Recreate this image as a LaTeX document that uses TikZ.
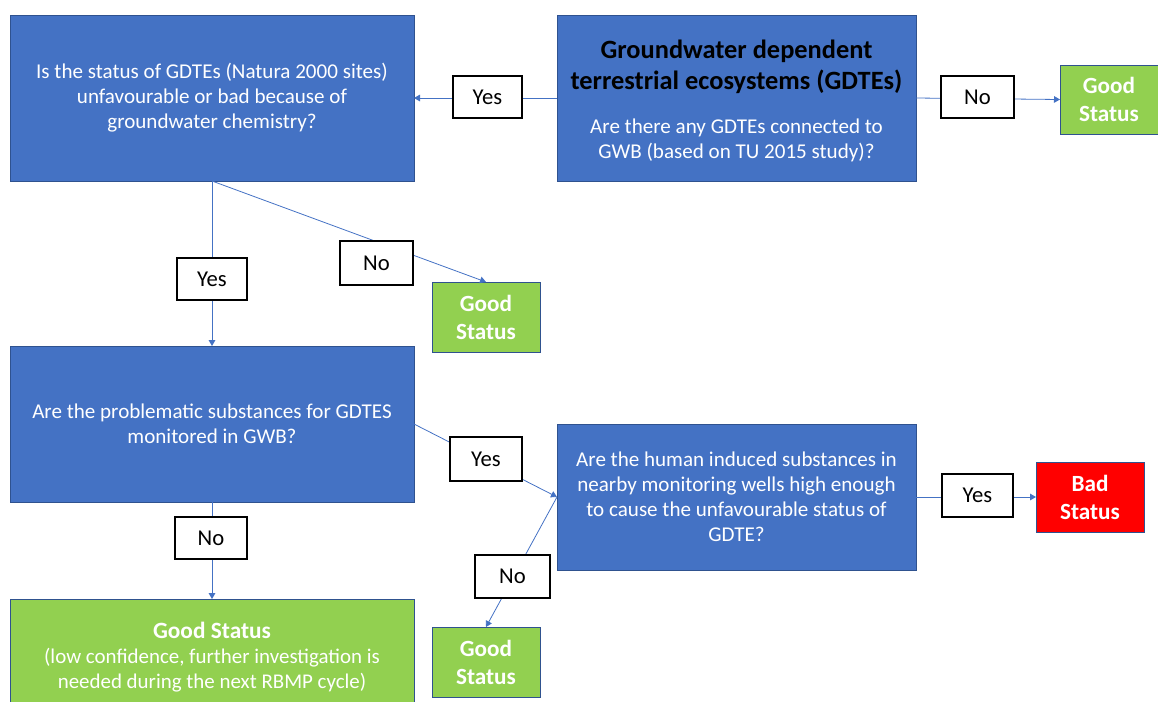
\documentclass[tikz,border=0pt]{standalone}
\usepackage{fontspec}
\setmainfont{Carlito}
\usetikzlibrary{arrows.meta}
\definecolor{boxblue}{HTML}{4472C4}
\definecolor{edgeblue}{HTML}{2F528F}
\definecolor{goodgreen}{HTML}{92D050}
\definecolor{badred}{HTML}{FF0000}
\definecolor{wire}{HTML}{4472C4}
\tikzset{
  wh/.style 2 args={minimum width=#1*0.75pt, minimum height=#2*0.75pt},
  qbox/.style={draw=edgeblue, line width=0.7pt, fill=boxblue, text=white,
    inner sep=0pt, outer sep=0pt, align=center,
    font=\fontsize{15.8}{18.75}\selectfont},
  okbox/.style={draw=edgeblue, line width=0.7pt, fill=goodgreen, text=white,
    inner sep=0pt, outer sep=0pt, align=center,
    font=\fontsize{17.4}{21}\selectfont\bfseries},
  badbox/.style={okbox, fill=badred},
  tag/.style={draw=black, line width=1.1pt, fill=white, text=black,
    inner sep=0pt, align=center, font=\fontsize{17}{18}\selectfont},
  link/.style={draw=wire, line width=0.6pt,
    -{Triangle[width=5pt,length=4.5pt]}}
}
\begin{document}
\begin{tikzpicture}[x=0.75pt,y=-0.75pt]
\useasboundingbox (0,0) rectangle (1158,701);

% question boxes
\node[qbox, wh={404}{166}] (qstatus) at (212,98)
  {Is the status of GDTEs (Natura 2000 sites)\\unfavourable or bad because of\\groundwater chemistry?};
\node[qbox, wh={359}{166}] (qgdte) at (736.5,98) {};
\node[font=\fontsize{19.8}{23}\selectfont\bfseries, text=black, align=center] (qgdtehead) at (736.5,67)
  {Groundwater dependent\\terrestrial ecosystems (GDTEs)};
\node[font=\fontsize{15.8}{18.75}\selectfont, text=white, align=center] (qgdtebody) at (736.5,140)
  {Are there any GDTEs connected to\\GWB (based on TU 2015 study)?};
\node[qbox, wh={404}{156}] (qmon) at (212,424)
  {Are the problematic substances for GDTES\\monitored in GWB?};
\node[qbox, wh={359}{146}] (qhuman) at (736.5,497)
  {Are the human induced substances in\\nearby monitoring wells high enough\\to cause the unfavourable status of\\GDTE?};

% outcome boxes
\node[okbox, wh={98}{69}] (good1) at (1109,99.5) {Good\\Status};
\node[okbox, wh={108}{70}] (good2) at (486,317) {Good\\Status};
\node[badbox, wh={108}{70}] (bad) at (1090,497) {Bad\\Status};
\node[okbox, wh={108}{70}] (good3) at (486,662) {Good\\Status};
\node[okbox, wh={404}{116}, font=\fontsize{15.7}{18.75}\selectfont] (good4) at (212,657)
  {{\fontsize{17.5}{18.75}\selectfont\bfseries Good Status}\\(low confidence, further investigation is\\needed during the next RBMP cycle)};

% connectors
\draw[link] (qgdte.west) -- (qstatus.east);
\draw[link] (qgdte.east) -- (good1.west);
\draw[link] (qstatus.south) -- (qmon.north);
\draw[link] (qstatus.south) -- (good2.north);
\draw[link] (qmon.east) -- (qhuman.west);
\draw[link] (qhuman.west) -- (good3.north);
\draw[link] (qhuman.east) -- (bad.west);
\draw[link] (qmon.south) -- (good4.north);

% answer tags
\node[tag, wh={69}{42}] (tyes1) at (487.5,97) {Yes};
\node[tag, wh={73}{42}] (tno1) at (977.5,97) {No};
\node[tag, wh={70}{42}] (tyes2) at (212,279) {Yes};
\node[tag, wh={73}{44}] (tno2) at (376.5,263) {No};
\node[tag, wh={72}{44}] (tyes3) at (486,459) {Yes};
\node[tag, wh={71}{43}] (tyes4) at (977.5,495.5) {Yes};
\node[tag, wh={72}{42}] (tno3) at (211,538) {No};
\node[tag, wh={75}{43}] (tno4) at (512.5,576.5) {No};
\end{tikzpicture}
\end{document}
